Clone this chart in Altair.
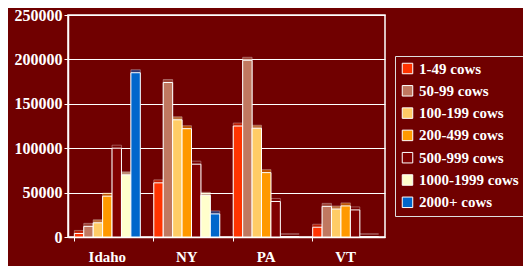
import altair as alt
import pandas as pd

states = ["Idaho", "NY", "PA", "VT"]
herd_sizes = ["1-49 cows", "50-99 cows", "100-199 cows", "200-499 cows",
              "500-999 cows", "1000-1999 cows", "2000+ cows"]
colors = ["#FF3300", "#C07860", "#FFCC66", "#FF9900", "#800000", "#FFFFCC", "#0066CC"]

cows_1_49 = [4000, 61000, 125000, 11000]
cows_50_99 = [12000, 174000, 199000, 34500]
cows_100_199 = [16000, 132000, 122500, 31500]
cows_200_499 = [46000, 122000, 72500, 35000]
cows_500_999 = [100000, 82000, 40000, 30500]
cows_1000_1999 = [70000, 47000, 0, 0]
cows_2000_plus = [185000, 26000, 0, 0]

series = [cows_1_49, cows_50_99, cows_100_199, cows_200_499,
          cows_500_999, cows_1000_1999, cows_2000_plus]

rows = []
for size, vals in zip(herd_sizes, series):
    for st, v in zip(states, vals):
        rows.append({"state": st, "size": size, "cows": v})
df = pd.DataFrame(rows)

font = "Liberation Serif"
bg = "#700000"

x = alt.X("state:N", sort=states, title=None,
          scale=alt.Scale(paddingInner=0.17, paddingOuter=0.08),
          axis=alt.Axis(labelAngle=0, bandPosition=0, tickSize=4, labelPadding=8,
                        grid=False, labelFontSize=15))
y = alt.Y("cows:Q", title=None,
          scale=alt.Scale(domain=[0, 250000]),
          axis=alt.Axis(values=[0, 50000, 100000, 150000, 200000, 250000],
                        format="d", tickSize=4, labelPadding=2, grid=True,
                        labelFontSize=16))
color = alt.Color("size:N", sort=herd_sizes,
                  scale=alt.Scale(domain=herd_sizes, range=colors),
                  legend=alt.Legend(title=None, orient="none", legendX=327, legendY=41,
                                    symbolType="square", symbolSize=110,
                                    symbolStrokeColor="white", symbolStrokeWidth=1,
                                    symbolOpacity=1,
                                    labelFont=font, labelFontSize=15,
                                    labelFontWeight="bold", labelColor="white",
                                    rowPadding=6.3, padding=5,
                                    strokeColor="#dddddd", fillColor=bg))
xoff = alt.XOffset("size:N", sort=herd_sizes, scale=alt.Scale(paddingInner=0, paddingOuter=0))

back = alt.Chart(df).mark_bar(xOffset=3, yOffset=-3, opacity=0.55,
                              stroke="white", strokeWidth=0.6).encode(
    x=x, y=y, color=color, xOffset=xoff)
front = alt.Chart(df).mark_bar(stroke="white", strokeWidth=1, opacity=1).encode(
    x=x, y=y, color=color, xOffset=xoff)

chart = alt.layer(back, front).properties(
    width=317, height=222,
    background=bg,
    autosize=alt.AutoSizeParams(type="none"),
    padding={"left": 60, "top": 7, "right": 138, "bottom": 29},
).configure_view(stroke="white", strokeWidth=1.5).configure_axis(
    labelFont=font, labelFontWeight="bold", labelColor="white",
    domainColor="white", tickColor="white", gridColor="white", gridOpacity=1,
    gridWidth=1, domainWidth=1.5,
)

chart.save("out.html", embed_options={"renderer": "svg", "actions": False})
